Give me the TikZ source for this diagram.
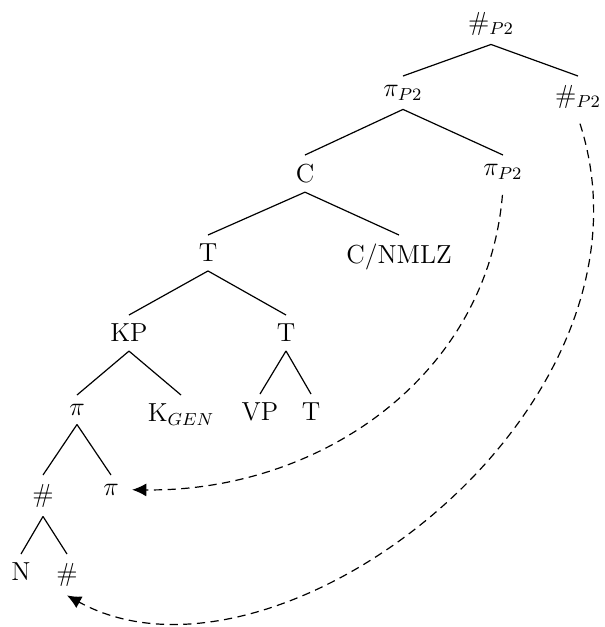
\documentclass[tikz,border=0pt]{standalone}
\usepackage{amsmath}
\usepackage{tikz}
\usetikzlibrary{arrows.meta}
\tikzset{
  lbl/.style={anchor=north, inner sep=4pt, font=\fontsize{12}{14.4}\selectfont},
  branch/.style={line width=0.55pt},
  move/.style={line width=0.55pt, dash pattern=on 3.8pt off 2.5pt, shorten <=3pt, -{Latex[length=6.5pt, width=6pt]}},
}

\begin{document}
\begin{tikzpicture}[x=0.46pt, y=-0.46pt]
        \useasboundingbox (0,0) rectangle (604,627);

        % Root
        \node[lbl] (root) at (491,3) {$\#_{P2}$};

        % Level 1
        \node[lbl] (piA) at (403,76) {$\pi_{P2}$};
        \node[lbl] (numA) at (578,76) {$\#_{P2}$};

        % Level 2
        \node[lbl] (cA) at (305,155) {C};
        \node[lbl] (piB) at (503,155) {$\pi_{P2}$};

        % Level 3
        \node[lbl] (tA) at (208,235) {T};
        \node[lbl] (nmlz) at (399,235) {C/NMLZ};

        % Level 4
        \node[lbl] (kp) at (129,315) {KP};
        \node[lbl] (tB) at (286,315) {T};

        % Level 5
        \node[lbl] (piC) at (77,395) {$\pi$};
        \node[lbl] (kgen) at (181,395) {K$_{GEN}$};
        \node[lbl] (vp) at (260,394) {VP};
        \node[lbl] (tC) at (311,394) {T};

        % Level 6
        \node[lbl] (numB) at (43,475) {$\#$};
        \node[lbl] (piD) at (111,475) {$\pi$};

        % Level 7
        \node[lbl] (nN) at (21,554) {N};
        \node[lbl] (numC) at (67,554) {$\#$};

        % Branches
        \draw[branch] (root.south) -- (piA.north);
        \draw[branch] (root.south) -- (numA.north);
        \draw[branch] (piA.south) -- (cA.north);
        \draw[branch] (piA.south) -- (piB.north);
        \draw[branch] (cA.south) -- (tA.north);
        \draw[branch] (cA.south) -- (nmlz.north);
        \draw[branch] (tA.south) -- (kp.north);
        \draw[branch] (tA.south) -- (tB.north);
        \draw[branch] (kp.south) -- (piC.north);
        \draw[branch] (kp.south) -- (kgen.north);
        \draw[branch] (tB.south) -- (vp.north);
        \draw[branch] (tB.south) -- (tC.north);
        \draw[branch] (piC.south) -- (numB.north);
        \draw[branch] (piC.south) -- (piD.north);
        \draw[branch] (numB.south) -- (nN.north);
        \draw[branch] (numB.south) -- (numC.north);

        % Movement
        \draw[move] (piB.south) .. controls (487,378) and (318,492) .. ([xshift=2pt]piD.east);
        \draw[move] (numA.south) .. controls (672,410) and (275,710) .. (numC.south);
\end{tikzpicture}
\end{document}
